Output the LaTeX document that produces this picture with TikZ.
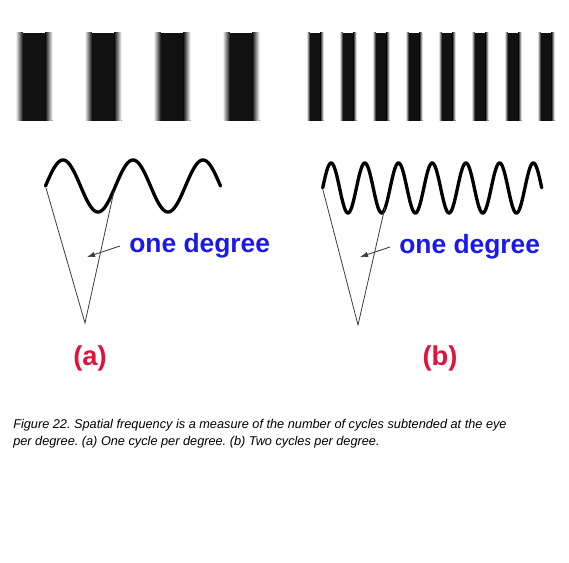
\documentclass[tikz,border=0pt]{standalone}
\usepackage{fontspec}
\setmainfont{Liberation Sans}
\definecolor{barblack}{RGB}{17, 17, 17}
\definecolor{legray}{RGB}{60, 60, 60}
\definecolor{labelblue}{RGB}{25, 25, 235}
\definecolor{labelred}{RGB}{222, 20, 60}
\usetikzlibrary{arrows.meta, positioning, calc}
\tikzset{
    wave/.style={line width=2.5pt, color=black, line cap=round},
    leg/.style={line width=0.6pt, color=legray},
    pointer/.style={-{Latex[length=6pt, width=4pt]}, line width=0.6pt, color=legray},
    degree/.style={
        font=\fontsize{19.8}{22}\selectfont\bfseries, text=labelblue,
        inner xsep=6.75pt, inner ysep=0pt
    },
    panel/.style={font=\fontsize{20.5}{24}\selectfont\bfseries, text=labelred},
    caption/.style={font=\fontsize{9.55}{12.4}\selectfont\itshape\frenchspacing, align=left, inner sep=0pt}
}
% one blurred grating bar: centre, half width, fade
\newcommand{\gratingbar}[3]{%
    \fill[left color=white, right color=barblack] ({#1-#2},33) rectangle ({#1-#2+#3+0.3},121);
    \fill[barblack] ({#1-#2+#3},33) rectangle ({#1+#2-#3},121);
    \fill[left color=barblack, right color=white] ({#1+#2-#3-0.3},33) rectangle ({#1+#2},121);
}

\begin{document}
\begin{tikzpicture}[x=0.75pt, y=-0.75pt]
    \fill[white] (0,0) rectangle (569,563);
    \useasboundingbox (0,0) rectangle (569,563);

    % Gratings
    \foreach \c in {34, 103, 172, 241} {\gratingbar{\c}{18.5}{7}}
    \foreach \c in {315, 348, 381, 414, 447, 480, 513, 546} {\gratingbar{\c}{8.5}{3}}

    % Sine waves
    \draw[wave] plot[domain=45.5:220.5, samples=200, smooth] (\x, {186 - 26*sin(360*((\x-45.5)/70))});
    \draw[wave] plot[domain=322.7:541.7, samples=300, smooth] (\x, {188 - 25*sin(360*((\x-322.7)/33.7))});

    % Visual angle (a)
    \coordinate (a-left) at (46,188);
    \coordinate (a-right) at (114,191);
    \coordinate (a-apex) at (85,323);
    \coordinate (a-tip) at (87,257);
    \draw[leg] (a-left) -- (a-apex) -- (a-right);
    \node[degree, anchor=west] (deg-a) at (120,246) {one degree};
    \draw[pointer] (deg-a.west) -- (a-tip);

    % Visual angle (b)
    \coordinate (b-left) at (323,190);
    \coordinate (b-right) at (385,207);
    \coordinate (b-apex) at (358,325);
    \coordinate (b-tip) at (360,257);
    \draw[leg] (b-left) -- (b-apex) -- (b-right);
    \node[degree, anchor=west] (deg-b) at (390,247) {one degree};
    \draw[pointer] (deg-b.west) -- (b-tip);

    % Panel labels
    \node[panel] (lab-a) at (90,358) {(a)};
    \node[panel] (lab-b) at (440,358) {(b)};

    % Caption
    \node[caption, anchor=north west] (cap) at (13,419)
        {Figure 22. Spatial frequency is a measure of the number of cycles subtended at the eye\\
         per degree. (a) One cycle per degree. (b) Two cycles per degree.};
\end{tikzpicture}
\end{document}
